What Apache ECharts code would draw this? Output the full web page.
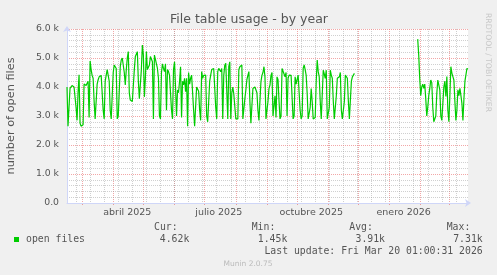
<!DOCTYPE html>
<html>
<head>
<meta charset="utf-8">
<script src="https://cdn.jsdelivr.net/npm/echarts@6/dist/echarts.min.js"></script>
<style>html,body{margin:0;padding:0;background:#f0f0f0;}#c{width:497px;height:275px;}</style>
</head>
<body>
<div id="c"></div>
<script>
// ---- data (daily averages) ----
var seg1Start = '2025-02-14';
var seg1 = [
4000,2650,2700,3950,4000,4050,4050,4000,3950,3300,
2850,3800,4420,2750,2650,2650,2700,4100,4150,4050,
4100,4200,2950,4900,4600,4400,4300,3500,2900,2950,
4100,4250,4350,4350,4400,4450,3200,2900,4200,4200,
4600,4400,4200,3200,2900,3700,4500,4760,4700,4640,
2900,3000,3000,4700,4930,5000,4950,4500,4070,4600,
5000,5220,3800,3550,3500,3500,3500,4600,5050,5000,
5220,4200,3600,3650,4600,5450,5100,3660,4300,5220,
4600,4600,4760,5050,5000,4870,2900,5100,4950,4800,
4640,4300,3000,2900,4500,4800,4640,4530,4800,3200,
4600,4530,4410,4400,3200,2900,4600,4870,4000,3000,
3900,3800,4200,4700,2950,4200,4070,4300,3840,4300,
2650,4500,4100,4300,4410,4470,3200,2650,2650,4000,
3950,3850,3200,2850,4530,4300,4400,4410,4410,3000,
2800,2850,4200,4410,4600,4640,4640,4600,3300,2900,
4530,4640,4580,4530,4640,2900,4400,4750,4820,4800,
2900,4700,4870,2900,3800,4000,3750,3800,2900,2850,
2900,4600,4700,4700,4760,2900,2900,3600,3900,4250,
4400,4530,3500,2750,2800,3950,4000,4000,3950,3800,
3200,2850,2900,4180,4400,4500,4700,4350,2900,2850,
3500,3950,4070,4400,4500,3000,3000,3700,2950,4350,
4250,3500,2900,3000,4640,4600,4450,4350,4500,3000,
4300,4410,4350,4400,4450,2900,3000,4350,4100,4100,
4410,4470,3200,2900,3000,4640,4760,4600,4400,3780,
2900,2950,3300,3950,3500,2900,2900,2950,4200,4930,
4530,4350,3500,2900,2900,4580,4450,4300,4580,2900,
2900,3300,4580,4410,4300,3500,2900,2950,3700,4300,
4350,4350,4500,3200,2900,2950,3500,4410,4470,4300,
3500,2900,2950,4200,4350,4410,4470
];
var seg2Start = '2026-01-29';
var seg2 = [
5650,5100,4300,3700,4000,4100,3950,4100,3600,3000,
3300,3700,3950,4240,4150,3300,2800,2800,3000,3780,
4240,4240,3900,3000,2850,2900,4000,4200,3670,4360,
3200,2800,3700,4700,4480,4360,4240,3500,2850,3200,
3900,3700,3950,3700,3430,2850,3600,4200,4200,4640,
4620
];
var axisStart = '2025-02-14T00:00:00Z';
var axisEnd = '2026-03-20T01:00:31Z';
var monthLabels = ['abril 2025', 'julio 2025', 'octubre 2025', 'enero 2026'];
var monthLabelDates = ['2025-04-15', '2025-07-15', '2025-10-15', '2026-01-15'];
var yTickLabels = ['0.0', '1.0 k', '2.0 k', '3.0 k', '4.0 k', '5.0 k', '6.0 k'];
var legendName = 'open files';
var statHeads = ['Cur:', 'Min:', 'Avg:', 'Max:'];
var statValues = ['4.62k', '1.45k', '3.91k', '7.31k'];
var lastUpdate = 'Last update: Fri Mar 20 01:00:31 2026';

// ---- build ----
var DAY = 86400000;
function ts(s) { return Date.parse(s.length === 10 ? s + 'T00:00:00Z' : s); }
var pts = [];
seg1.forEach(function (v, i) { pts.push([ts(seg1Start) + i * DAY, v]); });
pts.push([ts(seg1Start) + seg1.length * DAY, null]);
seg2.forEach(function (v, i) { pts.push([ts(seg2Start) + i * DAY, v]); });

var xMin = ts(axisStart), xMax = ts(axisEnd);
var monthStarts = [];
for (var y = 2025, m = 2; ; m++) {
  if (m > 11) { m = 0; y++; }
  monthStarts.push(Date.UTC(y, m, 1));
  if (y === 2026 && m === 2) break;
}
var biweekly = [];
for (var t = Date.UTC(2025, 1, 23); t < xMax; t += 14 * DAY) biweekly.push(t);
var labelVals = monthLabelDates.map(ts);

var txt = '#555';
var mono = '"DejaVu Sans Mono", monospace';
var sans = '"DejaVu Sans", sans-serif';
var axisBlue = '#CFD6F8';

var chart = echarts.init(document.getElementById('c'), null, { renderer: 'canvas' });
var graphics = [
  { type: 'text', x: 249, y: 19.5, style: { text: 'File table usage - by year', font: '12.5px ' + sans, fill: txt, align: 'center', verticalAlign: 'middle' } },
  { type: 'text', x: 487.5, y: 13, rotation: -Math.PI / 2, style: { text: 'RRDTOOL / TOBI OETIKER', font: '7.7px ' + sans, fill: '#c8c8c8', align: 'left', verticalAlign: 'middle' } },
  { type: 'rect', shape: { x: 14, y: 237, width: 5, height: 5 }, style: { fill: '#00cc00' } },
  { type: 'text', x: 26, y: 239.5, style: { text: legendName, font: '9.8px ' + mono, fill: txt, align: 'left', verticalAlign: 'middle' } },
  { type: 'text', x: 482.7, y: 251, style: { text: lastUpdate, font: '9.8px ' + mono, fill: txt, align: 'right', verticalAlign: 'middle' } },
  { type: 'text', x: 248, y: 264, style: { text: 'Munin 2.0.75', font: '7.5px ' + sans, fill: '#bbbbbb', align: 'center', verticalAlign: 'middle' } }
];
var headX = [154, 251.7, 349.3, 446.7];
var valX = [189.3, 287.3, 385, 482.7];
statHeads.forEach(function (h, i) {
  graphics.push({ type: 'text', x: headX[i], y: 227.7, style: { text: h, font: '9.8px ' + mono, fill: txt, align: 'left', verticalAlign: 'middle' } });
  graphics.push({ type: 'text', x: valX[i], y: 239.5, style: { text: statValues[i], font: '9.8px ' + mono, fill: txt, align: 'right', verticalAlign: 'middle' } });
});

var dotted = [1, 1];
chart.setOption({
  animation: false,
  backgroundColor: '#f0f0f0',
  grid: { left: 67, right: 29, top: 29, bottom: 72, show: true, backgroundColor: '#ffffff', borderWidth: 0, containLabel: false, outerBoundsMode: 'none' },
  xAxis: [
    { type: 'value', min: xMin, max: xMax, z: 5,
      axisLine: { show: true, lineStyle: { color: axisBlue, width: 1 }, symbol: ['none', 'arrow'], symbolSize: [6, 6], symbolOffset: [0, 3] },
      axisTick: { show: false },
      splitLine: { show: false },
      axisLabel: { show: true, customValues: labelVals, margin: 5, color: txt, fontSize: 9.5, fontFamily: sans,
        formatter: function (v) { var i = labelVals.indexOf(v); return i >= 0 ? monthLabels[i] : ''; } } },
    { type: 'value', min: xMin, max: xMax, position: 'bottom',
      axisLine: { show: false }, axisLabel: { show: false },
      axisTick: { show: true, customValues: monthStarts, length: 2, inside: false, lineStyle: { color: 'rgba(230,100,100,0.6)' } },
      splitLine: { show: true, lineStyle: { color: 'rgba(235,120,120,0.65)', type: dotted, width: 1 } } },
    { type: 'value', min: xMin, max: xMax, position: 'bottom',
      axisLine: { show: false }, axisLabel: { show: false },
      axisTick: { show: true, length: 0, customValues: biweekly },
      splitLine: { show: true, lineStyle: { color: 'rgba(150,150,150,0.45)', type: dotted, width: 1 } } }
  ],
  yAxis: {
    type: 'value', min: 0, max: 6000, interval: 1000, z: 5,
    name: 'number of open files', nameLocation: 'middle', nameGap: 50,
    nameTextStyle: { color: txt, fontSize: 11.3, fontFamily: sans },
    axisLine: { show: true, lineStyle: { color: axisBlue, width: 1 }, symbol: ['none', 'arrow'], symbolSize: [6, 6], symbolOffset: [0, 3] },
    axisTick: { show: false },
    axisLabel: { color: txt, fontSize: 9.3, fontFamily: sans, margin: 8,
      formatter: function (v) { return yTickLabels[Math.round(v / 1000)]; } },
    splitLine: { show: true, lineStyle: { color: 'rgba(235,120,120,0.65)', type: dotted, width: 1 } },
    minorTick: { show: false, splitNumber: 5 },
    minorSplitLine: { show: true, lineStyle: { color: 'rgba(150,150,150,0.45)', type: dotted, width: 1 } }
  },
  series: [{
    type: 'line', xAxisIndex: 0, data: pts, showSymbol: false, symbol: 'none', connectNulls: false,
    lineStyle: { color: '#00cc00', width: 1.2 }, z: 10
  }],
  graphic: graphics
});
</script>
</body>
</html>
